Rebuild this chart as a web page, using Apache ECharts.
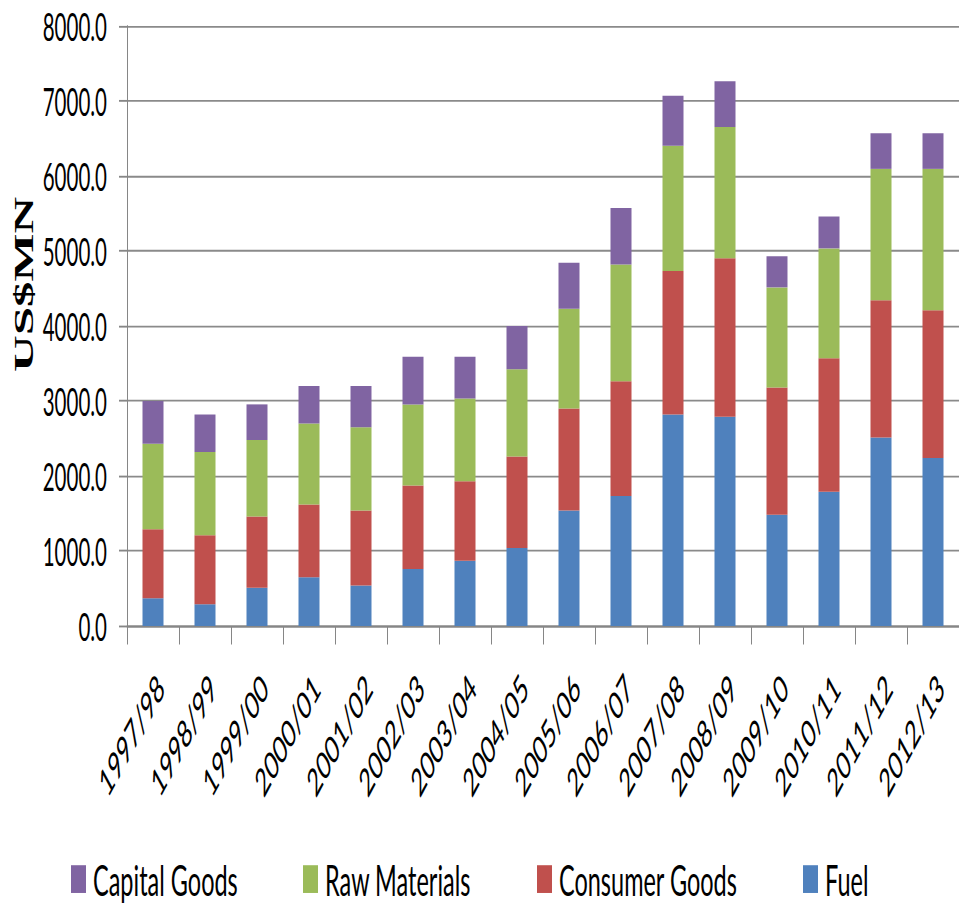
<!DOCTYPE html>
<html>
<head>
<meta charset="utf-8">
<title>Imports by category (US$MN)</title>
<script src="https://cdn.jsdelivr.net/npm/echarts@6/dist/echarts.min.js"></script>
<style>
  html, body { margin: 0; padding: 0; background: #ffffff; overflow: hidden; }
  #frame { width: 959px; height: 905px; overflow: hidden; position: relative; }
  /* The chart is laid out on a short canvas and stretched vertically,
     giving the tall, narrow lettering of the original spreadsheet export. */
  #chart { width: 959px; height: 489px; transform-origin: 0 0; transform: scale(1, 1.8507157); }
</style>
</head>
<body>
<div id="frame"><div id="chart"></div></div>
<script>
// Fiscal years on the category axis
const categories = ['1997/98', '1998/99', '1999/00', '2000/01', '2001/02', '2002/03', '2003/04', '2004/05',
                    '2005/06', '2006/07', '2007/08', '2008/09', '2009/10', '2010/11', '2011/12', '2012/13'];

// Import values per category, US$ million (stacked bottom to top)
const fuel          = [370, 290, 510, 650, 540, 760, 870, 1040, 1540, 1735, 2820, 2790, 1485, 1790, 2515, 2240];
const consumerGoods = [920, 920, 950, 970, 1000, 1115, 1060, 1220, 1360, 1530, 1915, 2115, 1695, 1780, 1830, 1970];
const rawMaterials  = [1140, 1110, 1020, 1080, 1110, 1080, 1105, 1165, 1330, 1555, 1670, 1750, 1335, 1465, 1750, 1885];
const capitalGoods  = [570, 500, 475, 500, 550, 635, 555, 575, 615, 755, 665, 610, 415, 425, 475, 475];

// Value axis range and step
const yMin = 0;
const yMax = 8000;
const yStep = 1000;

const axisTitle = 'US$MN';

const COLORS = {
  fuel: '#4F81BD',
  consumer: '#C0504D',
  raw: '#9BBB59',
  capital: '#8064A2'
};

const labelFont = 'Lato, "Open Sans", sans-serif';

function barSeries(name, data, color) {
  return {
    name: name,
    type: 'bar',
    stack: 'imports',
    data: data,
    barWidth: 21,
    itemStyle: { color: color },
    emphasis: { disabled: true }
  };
}

function legendAt(name, left) {
  return {
    data: [name],
    left: left,
    top: 463,
    padding: 0,
    itemWidth: 15,
    itemHeight: 15,
    icon: 'rect',
    selectedMode: false,
    textStyle: { fontFamily: labelFont, fontSize: 23.5, color: '#000', padding: [0, 0, 0, 2] }
  };
}

const chart = echarts.init(document.getElementById('chart'), null, { renderer: 'svg' });

chart.setOption({
  animation: false,
  backgroundColor: '#ffffff',
  grid: { left: 127, top: 14.05, width: 841, height: 324.2, containLabel: false },
  legend: [
    legendAt('Capital Goods', 71),
    legendAt('Raw Materials', 303),
    legendAt('Consumer Goods', 537),
    legendAt('Fuel', 803)
  ],
  xAxis: {
    type: 'category',
    data: categories,
    axisLine: { lineStyle: { color: '#868686', width: 1 } },
    axisTick: { show: true, length: 10, lineStyle: { color: '#868686' } },
    axisLabel: {
      rotate: 45,
      interval: 0,
      margin: 22,
      verticalAlign: 'top',
      fontFamily: labelFont,
      fontSize: 21,
      color: '#000'
    }
  },
  yAxis: {
    type: 'value',
    min: yMin,
    max: yMax,
    interval: yStep,
    axisLine: { show: true, lineStyle: { color: '#868686', width: 1 } },
    axisTick: { show: true, length: 8, lineStyle: { color: '#868686' } },
    splitLine: { lineStyle: { color: '#8a8a8a', width: 1 } },
    axisLabel: {
      margin: 20,
      fontFamily: labelFont,
      fontSize: 20.5,
      color: '#000',
      formatter: function (v) { return v.toFixed(1); }
    }
  },
  graphic: [{
    type: 'text',
    x: 24,
    y: 153.7,
    rotation: Math.PI / 2,
    silent: true,
    style: {
      text: axisTitle,
      fontFamily: '"Liberation Serif", "DejaVu Serif", serif',
      fontWeight: 'bold',
      fontSize: 27.5,
      fill: '#000',
      align: 'center',
      verticalAlign: 'middle'
    }
  }],
  series: [
    barSeries('Fuel', fuel, COLORS.fuel),
    barSeries('Consumer Goods', consumerGoods, COLORS.consumer),
    barSeries('Raw Materials', rawMaterials, COLORS.raw),
    barSeries('Capital Goods', capitalGoods, COLORS.capital)
  ]
});
</script>
</body>
</html>
